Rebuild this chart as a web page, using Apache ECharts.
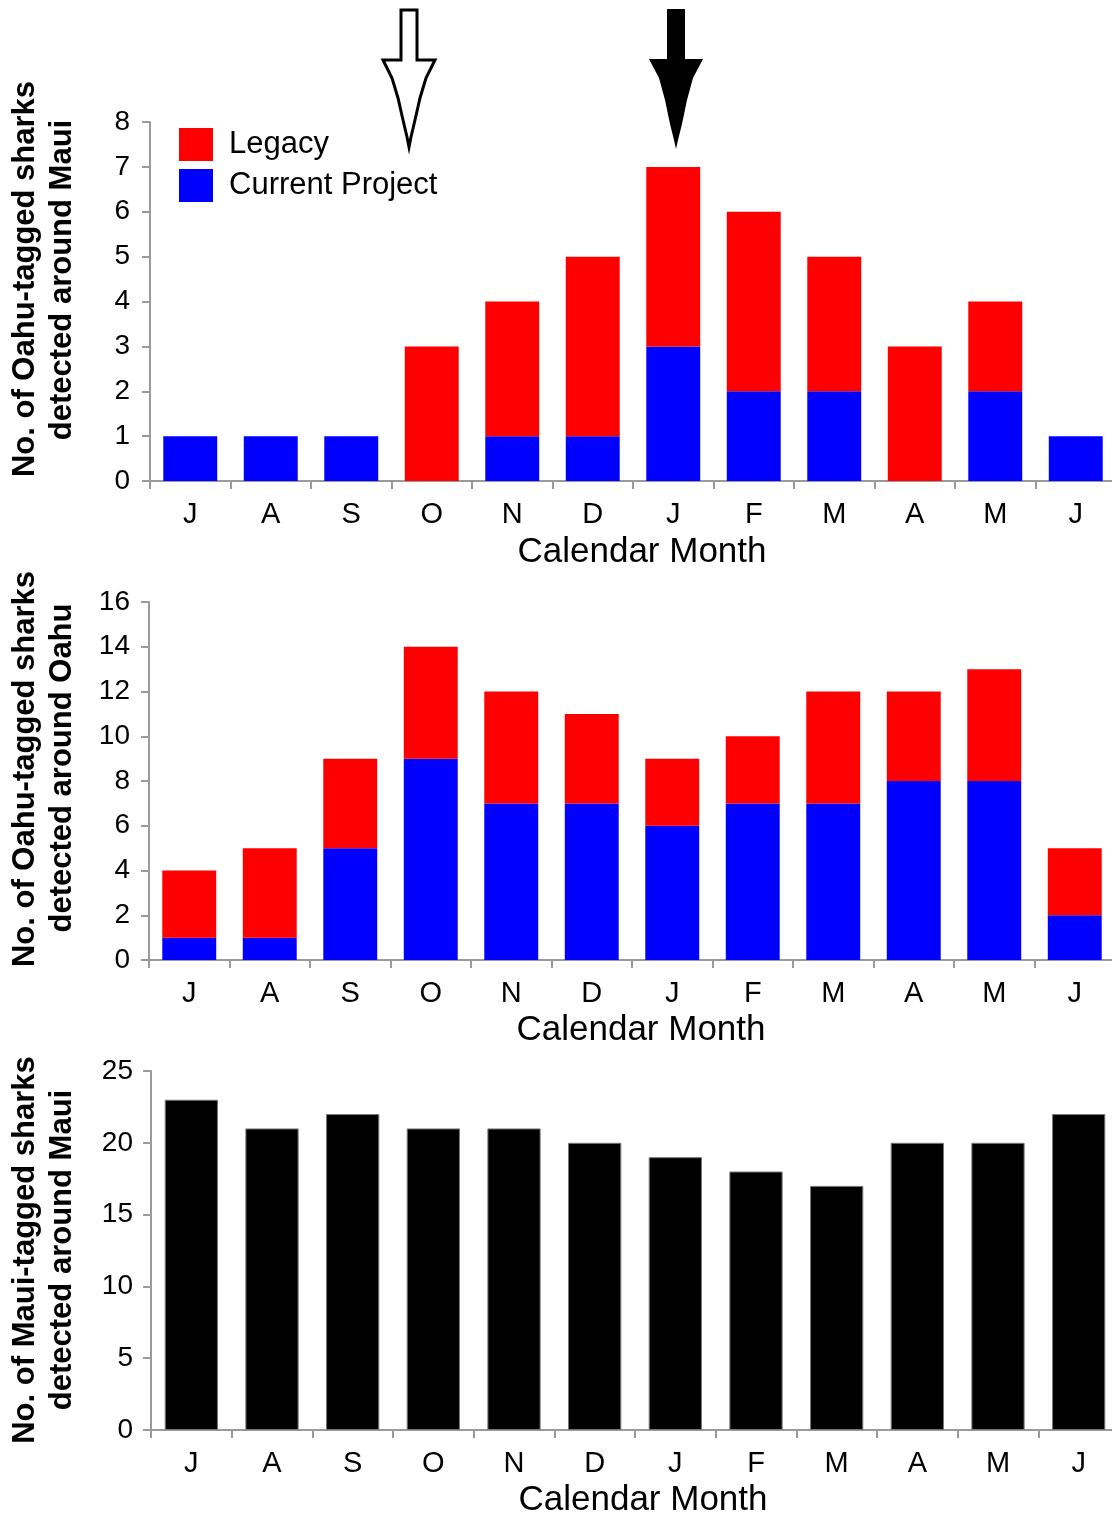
<!DOCTYPE html>
<html><head><meta charset="utf-8">
<script src="https://cdn.jsdelivr.net/npm/echarts@6/dist/echarts.min.js"></script>
<style>html,body{margin:0;padding:0;background:#fff;overflow:hidden}#c{width:1130px;height:1515px}</style>
</head><body><div id="c"></div>
<script>
const months = ['J','A','S','O','N','D','J','F','M','A','M','J'];
const mauiCurrent = [1,1,1,0,1,1,3,2,2,0,2,1];
const mauiLegacy  = [0,0,0,3,3,4,4,4,3,3,2,0];
const oahuCurrent = [1,1,5,9,7,7,6,7,7,8,8,2];
const oahuLegacy  = [3,4,4,5,5,4,3,3,5,4,5,3];
const mauiTagged  = [23,21,22,21,21,20,19,18,17,20,20,22];
const yTicks1 = {min:0, max:8, interval:1};
const yTicks2 = {min:0, max:16, interval:2};
const yTicks3 = {min:0, max:25, interval:5};

const FONT = '"Liberation Sans", Arial, sans-serif';
const AX = '#9a9a9a';
const chart = echarts.init(document.getElementById('c'), null, {renderer:'canvas'});

function xAx(i){
  return {type:'category', gridIndex:i, data:months, boundaryGap:true,
    axisLine:{lineStyle:{color:AX, width:2}},
    axisTick:{show:true, length:8, alignWithLabel:false, lineStyle:{color:AX, width:2}},
    axisLabel:{color:'#000', fontSize:29, fontFamily:FONT, margin:19, interval:0}};
}
function yAx(i, t, m){
  return {type:'value', gridIndex:i, min:t.min, max:t.max, interval:t.interval,
    axisLine:{show:true, lineStyle:{color:AX, width:2}},
    axisTick:{show:true, length:8, lineStyle:{color:AX, width:2}},
    splitLine:{show:false},
    axisLabel:{color:'#000', fontSize:28, fontFamily:FONT, margin:m}};
}
function vtext(x, y, s){
  return {type:'text', x:x, y:y, rotation:Math.PI/2,
    style:{text:s, font:'bold 31px ' + FONT, fill:'#000', textAlign:'center', textVerticalAlign:'middle'}};
}
function htext(x, y, s){
  return {type:'text', x:x, y:y,
    style:{text:s, font:'35px ' + FONT, fill:'#000', textAlign:'center', textVerticalAlign:'middle'}};
}
const hollowArrow = [[401,10],[417,10],[417,60],[435,60],[426,78],[420,98],[415,120],[411,137],[409,147],[407,137],[403,120],[398,98],[392,78],[383,60],[401,60]];
const solidArrow = [[667,9],[685,9],[685,59],[703,59],[693,78],[687,100],[682,124],[678,140],[676,149],[674,140],[670,124],[665,100],[659,78],[649,59],[667,59]];

chart.setOption({
  animation:false,
  backgroundColor:'#fff',
  grid:[
    {left:150, top:122, width:966, height:359},
    {left:149, top:602, width:966, height:358},
    {left:151, top:1071, width:968, height:359}
  ],
  legend:{data:['Legacy','Current Project'], orient:'vertical', left:179, top:128,
    itemWidth:34, itemHeight:33, itemGap:8, padding:0, icon:'rect',
    textStyle:{fontSize:31, fontFamily:FONT, color:'#000', padding:[0,0,0,11]}},
  xAxis:[xAx(0), xAx(1), xAx(2)],
  yAxis:[yAx(0, yTicks1, 20), yAx(1, yTicks2, 19), yAx(2, yTicks3, 18)],
  series:[
    {name:'Current Project', type:'bar', xAxisIndex:0, yAxisIndex:0, stack:'p1', data:mauiCurrent, barWidth:'67%', itemStyle:{color:'#0000ff'}},
    {name:'Legacy', type:'bar', xAxisIndex:0, yAxisIndex:0, stack:'p1', data:mauiLegacy, barWidth:'67%', itemStyle:{color:'#ff0000'}},
    {name:'Current Project', type:'bar', xAxisIndex:1, yAxisIndex:1, stack:'p2', data:oahuCurrent, barWidth:'67%', itemStyle:{color:'#0000ff'}},
    {name:'Legacy', type:'bar', xAxisIndex:1, yAxisIndex:1, stack:'p2', data:oahuLegacy, barWidth:'67%', itemStyle:{color:'#ff0000'}},
    {name:'Maui-tagged', type:'bar', xAxisIndex:2, yAxisIndex:2, data:mauiTagged, barWidth:'66%', itemStyle:{color:'#000', borderColor:'#777', borderWidth:1}}
  ],
  graphic:[
    vtext(25, 279, 'No. of Oahu-tagged sharks'),
    vtext(62, 280, 'detected around Maui'),
    vtext(25, 769, 'No. of Oahu-tagged sharks'),
    vtext(62, 768, 'detected around Oahu'),
    vtext(25, 1250, 'No. of Maui-tagged sharks'),
    vtext(62, 1250, 'detected around Maui'),
    htext(642, 552, 'Calendar Month'),
    htext(641, 1030, 'Calendar Month'),
    htext(643, 1500, 'Calendar Month'),
    {type:'polygon', shape:{points:hollowArrow}, style:{fill:'#fff', stroke:'#000', lineWidth:3}},
    {type:'polygon', shape:{points:solidArrow}, style:{fill:'#000'}}
  ]
});
</script></body></html>
